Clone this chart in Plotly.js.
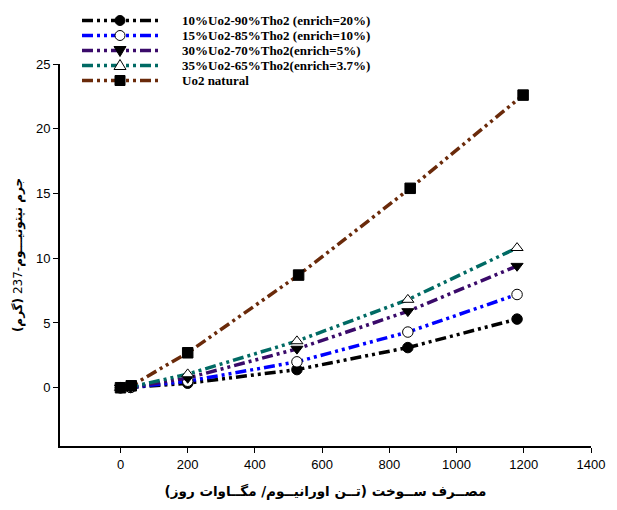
<!DOCTYPE html>
<html><head><meta charset="utf-8">
<script src="https://cdn.plot.ly/plotly-3.0.1.min.js"></script>
<style>html,body{margin:0;padding:0;background:#fff}</style>
</head><body>
<div id="chart" style="width:617px;height:510px"></div>
<script>
const seriesNames = [
  "10%Uo2-90%Tho2 (enrich=20%)",
  "15%Uo2-85%Tho2 (enrich=10%)",
  "30%Uo2-70%Tho2(enrich=5%)",
  "35%Uo2-65%Tho2(enrich=3.7%)",
  "Uo2 natural"
];
const xThoria = [0, 30, 200, 525, 855, 1180];
const xNatural = [0, 32, 200, 530, 862, 1198];
const y10 = [0, 0.02, 0.35, 1.4, 3.1, 5.3];
const y15 = [0, 0.03, 0.5, 2.0, 4.3, 7.2];
const y30 = [0, 0.04, 0.75, 3.0, 5.9, 9.4];
const y35 = [0, 0.05, 1.05, 3.6, 6.8, 10.8];
const yNatural = [0, 0.15, 2.7, 8.7, 15.4, 22.6];
const xTicks = [0, 200, 400, 600, 800, 1000, 1200, 1400];
const yTicks = [0, 5, 10, 15, 20, 25];

const colors = ["#000000", "#0000ff", "#3a0a6a", "#006a64", "#6a2a0a"];
const symbols = ["circle", "circle", "triangle-down", "triangle-up", "square"];
const fills = ["#000", "#fff", "#000", "#fff", "#000"];
const ys = [y10, y15, y30, y35, yNatural];
const xs = [xThoria, xThoria, xThoria, xThoria, xNatural];

const dash = "11px,4px,3px,4px,3px,4px";
const data = ys.map((y, i) => ({
  type: "scatter", mode: "lines+markers", name: seriesNames[i], x: xs[i], y: y,
  showlegend: false,
  line: {color: colors[i], width: 3.5, dash: dash},
  marker: {symbol: symbols[i], size: 10.5, color: fills[i], line: {color: "#000", width: 1}}
}));

// Legend drawn in paper space (plot: left 60, right 591, top 64, bottom 446)
const W = 531, H = 382, L = 60, B = 446;
const px = v => (v - L) / W;
const py = v => (B - v) / H;
const shapes = [], annotations = [];
seriesNames.forEach((name, i) => {
  const rowY = 20.5 + 15 * i;
  shapes.push({type: "line", xref: "paper", yref: "paper", x0: px(82), x1: px(158), y0: py(rowY), y1: py(rowY),
    line: {color: colors[i], width: 3.5, dash: dash}});
  annotations.push({xref: "paper", yref: "paper", x: px(180), y: py(rowY), xanchor: "left", yanchor: "middle",
    showarrow: false, text: "<b>" + name + "</b>",
    font: {family: "Liberation Serif, Times New Roman, serif", size: 13, color: "#000"}});
});
seriesNames.forEach((name, i) => {
  const rowY = 20.5 + 15 * i;
  const base = {xref: "paper", yref: "paper", xsizemode: "pixel", ysizemode: "pixel",
    xanchor: px(120), yanchor: py(rowY), fillcolor: fills[i], line: {color: "#000", width: 1}};
  if (symbols[i] === "circle") shapes.push(Object.assign({type: "circle", x0: -5, x1: 5, y0: -5, y1: 5}, base));
  else if (symbols[i] === "square") shapes.push(Object.assign({type: "rect", x0: -5, x1: 5, y0: -5, y1: 5}, base));
  else if (symbols[i] === "triangle-up") shapes.push(Object.assign({type: "path", path: "M-6,-4L6,-4L0,6Z"}, base));
  else shapes.push(Object.assign({type: "path", path: "M-6,4L6,4L0,-6Z"}, base));
});

const layout = {
  width: 617, height: 510,
  margin: {l: 60, r: 26, t: 64, b: 64, autoexpand: false},
  paper_bgcolor: "#fff", plot_bgcolor: "#fff",
  font: {family: "Liberation Sans, Arial, sans-serif", size: 13, color: "#000"},
  showlegend: false,
  shapes: shapes, annotations: annotations,
  xaxis: {
    range: [-180, 1400], tickvals: xTicks, ticktext: xTicks.map(String),
    showgrid: false, zeroline: false, showline: true, linecolor: "#000", linewidth: 2,
    ticks: "outside", ticklen: 5, tickwidth: 1, tickcolor: "#000",
    title: {text: "<b>مصــرف ســوخت (تــن اورانیــوم/ مگــاوات روز)</b>", font: {family: "DejaVu Sans, Noto Sans, sans-serif", size: 13.5}, standoff: 16}
  },
  yaxis: {
    range: [-4.5, 25], tickvals: yTicks, ticktext: yTicks.map(String),
    showgrid: false, zeroline: false, showline: true, linecolor: "#000", linewidth: 2,
    ticks: "outside", ticklen: 5, tickwidth: 1, tickcolor: "#000",
    title: {text: "<b>جرم نپتونیـــوم</b>-237 <b>(گرم)</b>", font: {family: "DejaVu Sans, Noto Sans, sans-serif", size: 12}, standoff: 11}
  }
};
Plotly.newPlot("chart", data, layout, {displayModeBar: false, staticPlot: true});
</script>
</body></html>
